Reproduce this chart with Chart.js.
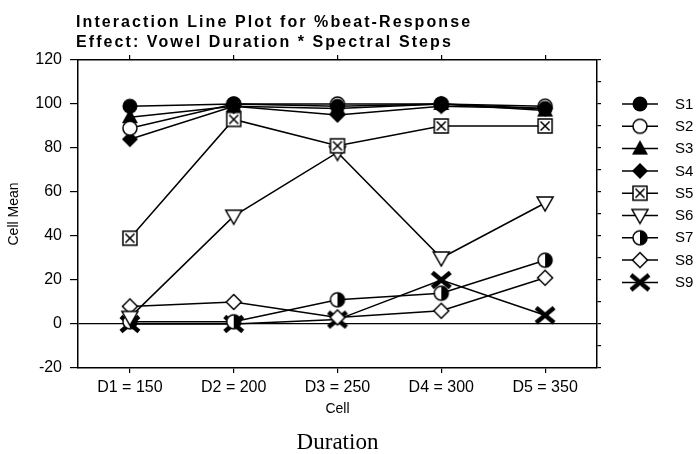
<!DOCTYPE html>
<html><head><meta charset="utf-8">
<script src="https://cdn.jsdelivr.net/npm/chart.js@4.4.1/dist/chart.umd.min.js"></script>
<style>html,body{margin:0;padding:0;background:#fff}#wrap{width:698px;height:454px;position:relative}</style>
</head><body><div id="wrap"><canvas id="c"></canvas></div>
<script>
// ---- data ----
const categories = ['D1 = 150', 'D2 = 200', 'D3 = 250', 'D4 = 300', 'D5 = 350'];
const seriesNames = ['S1', 'S2', 'S3', 'S4', 'S5', 'S6', 'S7', 'S8', 'S9'];
const s1 = [99, 100, 99, 100, 98];
const s2 = [89, 100, 100, 100, 99];
const s3 = [94, 99, 98, 100, 97];
const s4 = [84, 99, 95, 99, 98];
const s5 = [39, 93, 81, 90, 90];
const s6 = [3, 49, 78, 30, 55];
const s7 = [1, 1, 11, 14, 29];
const s8 = [8, 10, 3, 6, 21];
const s9 = [0, 0, 2, 20, 4];
const yTickLabels = [-20, 0, 20, 40, 60, 80, 100, 120];
const titleLines = ['Interaction Line Plot for %beat-Response', 'Effect: Vowel Duration * Spectral Steps'];
const xTitle = 'Cell';
const yTitle = 'Cell Mean';
const bottomNote = 'Duration';
const seriesValues = [s1, s2, s3, s4, s5, s6, s7, s8, s9];
const markerKinds = ['circleFilled', 'circleOpen', 'triFilled', 'diamondFilled', 'squareX', 'triDownOpen', 'halfCircle', 'diamondOpen', 'bigX'];

// ---- marker images ----
function makeMarker(kind) {
  const S = 22, c = S / 2;
  const cv = document.createElement('canvas');
  cv.width = S; cv.height = S;
  const g = cv.getContext('2d');
  g.strokeStyle = '#000'; g.fillStyle = '#000'; g.lineWidth = 1.5; g.lineJoin = 'miter';
  const poly = (pts, fill) => {
    g.beginPath(); g.moveTo(pts[0][0], pts[0][1]);
    for (let i = 1; i < pts.length; i++) g.lineTo(pts[i][0], pts[i][1]);
    g.closePath();
    if (fill === 'black') { g.fillStyle = '#000'; g.fill(); }
    else { g.fillStyle = '#fff'; g.fill(); g.stroke(); }
  };
  switch (kind) {
    case 'circleFilled': g.beginPath(); g.arc(c, c, 7.5, 0, Math.PI * 2); g.fill(); break;
    case 'circleOpen': g.beginPath(); g.arc(c, c, 7, 0, Math.PI * 2); g.fillStyle = '#fff'; g.fill(); g.stroke(); break;
    case 'triFilled': poly([[c, c - 8.5], [c + 8, c + 6], [c - 8, c + 6]], 'black'); break;
    case 'diamondFilled': poly([[c, c - 8], [c + 8, c], [c, c + 8], [c - 8, c]], 'black'); break;
    case 'squareX':
      g.fillStyle = '#fff'; g.fillRect(c - 7, c - 7, 14, 14); g.strokeRect(c - 7, c - 7, 14, 14);
      g.beginPath(); g.moveTo(c - 4.5, c - 4.5); g.lineTo(c + 4.5, c + 4.5); g.moveTo(c + 4.5, c - 4.5); g.lineTo(c - 4.5, c + 4.5); g.stroke();
      break;
    case 'triDownOpen': poly([[c - 8, c - 6], [c + 8, c - 6], [c, c + 8]], 'white'); break;
    case 'halfCircle':
      g.beginPath(); g.arc(c, c, 7, 0, Math.PI * 2); g.fillStyle = '#fff'; g.fill();
      g.beginPath(); g.arc(c, c, 7, -Math.PI / 2, Math.PI / 2); g.closePath(); g.fillStyle = '#000'; g.fill();
      g.beginPath(); g.arc(c, c, 7, 0, Math.PI * 2); g.stroke();
      break;
    case 'diamondOpen': poly([[c, c - 7.5], [c + 7.5, c], [c, c + 7.5], [c - 7.5, c]], 'white'); break;
    case 'bigX':
      g.lineWidth = 4.5; g.lineCap = 'butt';
      g.beginPath(); g.moveTo(c - 9, c - 7.5); g.lineTo(c + 9, c + 7.5); g.moveTo(c + 9, c - 7.5); g.lineTo(c - 9, c + 7.5); g.stroke();
      break;
  }
  return cv;
}
const markers = markerKinds.map(makeMarker);

Chart.defaults.font.family = '"Liberation Sans", Arial, sans-serif';
Chart.defaults.color = '#000';

const datasets = seriesNames.map((n, i) => ({
  label: n,
  data: seriesValues[i],
  borderColor: '#000',
  backgroundColor: '#000',
  borderWidth: 1.5,
  pointStyle: markers[i],
  pointRadius: 7,
  tension: 0,
  fill: false
}));

const decor = {
  id: 'decor',
  afterDraw(chart) {
    const ctx = chart.ctx, ca = chart.chartArea;
    ctx.save();
    // title
    ctx.fillStyle = '#000';
    ctx.font = 'bold 16px "Liberation Sans", Arial, sans-serif';
    ctx.textAlign = 'left'; ctx.textBaseline = 'alphabetic';
    ctx.letterSpacing = '0px';
    const w0 = ctx.measureText(titleLines[0]).width;
    const sp = Math.max(0, (396 - w0) / titleLines[0].length);
    ctx.letterSpacing = sp.toFixed(2) + 'px';
    ctx.fillText(titleLines[0], 76, 27);
    ctx.fillText(titleLines[1], 76, 46.5);
    ctx.letterSpacing = '0px';
    // bottom note
    ctx.font = '23px "Liberation Serif", "Times New Roman", serif';
    ctx.textAlign = 'center';
    ctx.fillText(bottomNote, (ca.left + ca.right) / 2, 449);
    // legend
    ctx.font = '15px "Liberation Sans", Arial, sans-serif';
    ctx.textAlign = 'left'; ctx.textBaseline = 'middle';
    ctx.strokeStyle = '#000'; ctx.lineWidth = 1.5;
    seriesNames.forEach((n, i) => {
      const y = 104 + i * 22.3;
      ctx.beginPath(); ctx.moveTo(622, y); ctx.lineTo(658, y); ctx.stroke();
      const m = markers[i];
      ctx.drawImage(m, 640 - m.width / 2, y - m.height / 2);
      ctx.fillText(n, 675, y + 0.5);
    });
    ctx.restore();
  }
};

new Chart(document.getElementById('c'), {
  type: 'line',
  data: { labels: categories, datasets },
  plugins: [decor],
  options: {
    responsive: true,
    maintainAspectRatio: false,
    animation: false,
    events: [],
    layout: { padding: { left: 0, top: 55, right: 96, bottom: 0 } },
    plugins: { legend: { display: false }, title: { display: false }, tooltip: { enabled: false } },
    scales: {
      x: {
        type: 'category', position: 'bottom', offset: true,
        grid: { drawOnChartArea: false, drawTicks: true, tickLength: 5, color: '#000', lineWidth: 1.2 },
        border: { color: '#000', width: 1.5 },
        ticks: { font: { size: 16 }, color: '#000', padding: 5, maxRotation: 0, autoSkip: false },
        title: { display: true, text: xTitle, font: { size: 14 }, color: '#000', padding: { top: 0, bottom: 36.5 } },
        afterFit: s => { s.height = 86; }
      },
      x2: {
        type: 'category', labels: categories, position: 'top', offset: true,
        grid: { drawOnChartArea: false, drawTicks: true, tickLength: 5, color: '#000', lineWidth: 1.2 },
        border: { color: '#000', width: 1.5 },
        ticks: { display: false },
        afterFit: s => { s.height = 5; }
      },
      y: {
        type: 'linear', position: 'left', min: -20, max: 120,
        ticks: { stepSize: 10, font: { size: 16 }, color: '#000', padding: 8,
          callback: v => (yTickLabels.includes(v) ? String(v) : '') },
        grid: { color: c => (c.tick && c.tick.value === 0 ? '#000' : 'rgba(0,0,0,0)'), tickColor: '#000', tickLength: 8, lineWidth: 1.2 },
        border: { color: '#000', width: 1.5 },
        title: { display: true, text: yTitle, font: { size: 14 }, color: '#000', padding: { top: 5.5, bottom: 0 } },
        afterFit: s => { s.width = 78; }
      },
      y2: {
        type: 'linear', position: 'right', min: -20, max: 120,
        ticks: { display: false, stepSize: 10 },
        grid: { drawOnChartArea: false, drawTicks: true, tickLength: 4, color: '#000', lineWidth: 1.2 },
        border: { color: '#000', width: 1.5 },
        afterFit: s => { s.width = 5; }
      }
    }
  }
});
</script>
</body></html>
